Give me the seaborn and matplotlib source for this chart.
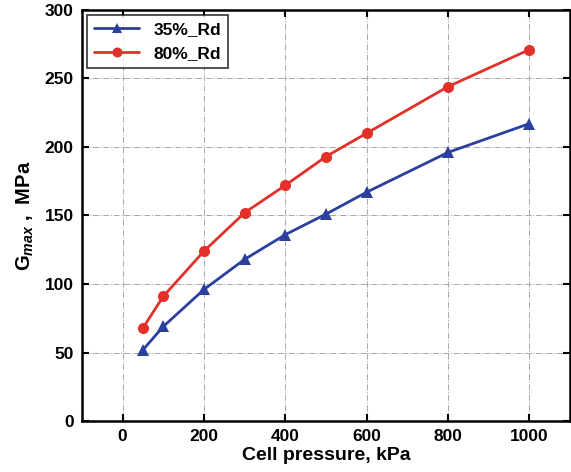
import pandas as pd
import matplotlib
matplotlib.use("Agg")
import matplotlib.pyplot as plt
import seaborn as sns

# Data
pressure = [50, 100, 200, 300, 400, 500, 600, 800, 1000]
gmax_35 = [52, 69, 96, 118, 136, 151, 167, 196, 217]
gmax_80 = [68, 91, 124, 152, 172, 193, 210, 244, 271]
series_names = ["35%_Rd", "80%_Rd"]

df = pd.DataFrame({
    "pressure": pressure * 2,
    "gmax": gmax_35 + gmax_80,
    "series": [series_names[0]] * len(pressure) + [series_names[1]] * len(pressure),
})

sns.set_style("ticks")
plt.rcParams["font.family"] = ["Liberation Sans", "DejaVu Sans"]
plt.rcParams["font.weight"] = "bold"
plt.rcParams["mathtext.fontset"] = "custom"
plt.rcParams["mathtext.rm"] = "Liberation Sans:bold"
plt.rcParams["mathtext.it"] = "Liberation Sans:italic:bold"
plt.rcParams["mathtext.bf"] = "Liberation Sans:bold"
for key in ["text.color", "axes.labelcolor", "xtick.color", "ytick.color", "axes.edgecolor"]:
    plt.rcParams[key] = "black"

fig = plt.figure(figsize=(5.71, 4.72), dpi=100)
ax = fig.add_axes([0.1436, 0.108, 0.8546, 0.871])

sns.lineplot(
    data=df, x="pressure", y="gmax", hue="series", style="series",
    palette={"35%_Rd": "#2b3f9e", "80%_Rd": "#e2312a"},
    markers={"35%_Rd": "^", "80%_Rd": "o"}, dashes=False,
    linewidth=2, markersize=8, markeredgewidth=0, ax=ax,
)

ax.set_xlim(-100, 1100)
ax.set_ylim(0, 300)
ax.set_xticks([0, 200, 400, 600, 800, 1000])
ax.set_yticks([0, 50, 100, 150, 200, 250, 300])
ax.grid(True, linestyle="-.", color="#a8a8a8", linewidth=0.7)
ax.tick_params(direction="in", top=True, right=True, length=5, width=1.5,
               labelsize=12.5, pad=6, colors="black")
for lbl in ax.get_xticklabels() + ax.get_yticklabels():
    lbl.set_fontweight("bold")
for sp in ax.spines.values():
    sp.set_linewidth(1.8)
    sp.set_color("black")
    sp.set_visible(True)

ax.set_xlabel("Cell pressure, kPa", fontsize=14, fontweight="bold", labelpad=2)
ax.set_ylabel(r"G$_{max}$ ,  MPa", fontsize=14.5, fontweight="bold", labelpad=6)

leg = ax.legend(loc="upper left", fontsize=12.5, frameon=True, fancybox=False,
                edgecolor="black", borderaxespad=0.3, handlelength=2.6,
                markerscale=0.9)
leg.get_frame().set_linewidth(1.2)
for t in leg.get_texts():
    t.set_fontweight("bold")
    t.set_color("black")

fig.savefig("out.png", dpi=100)
